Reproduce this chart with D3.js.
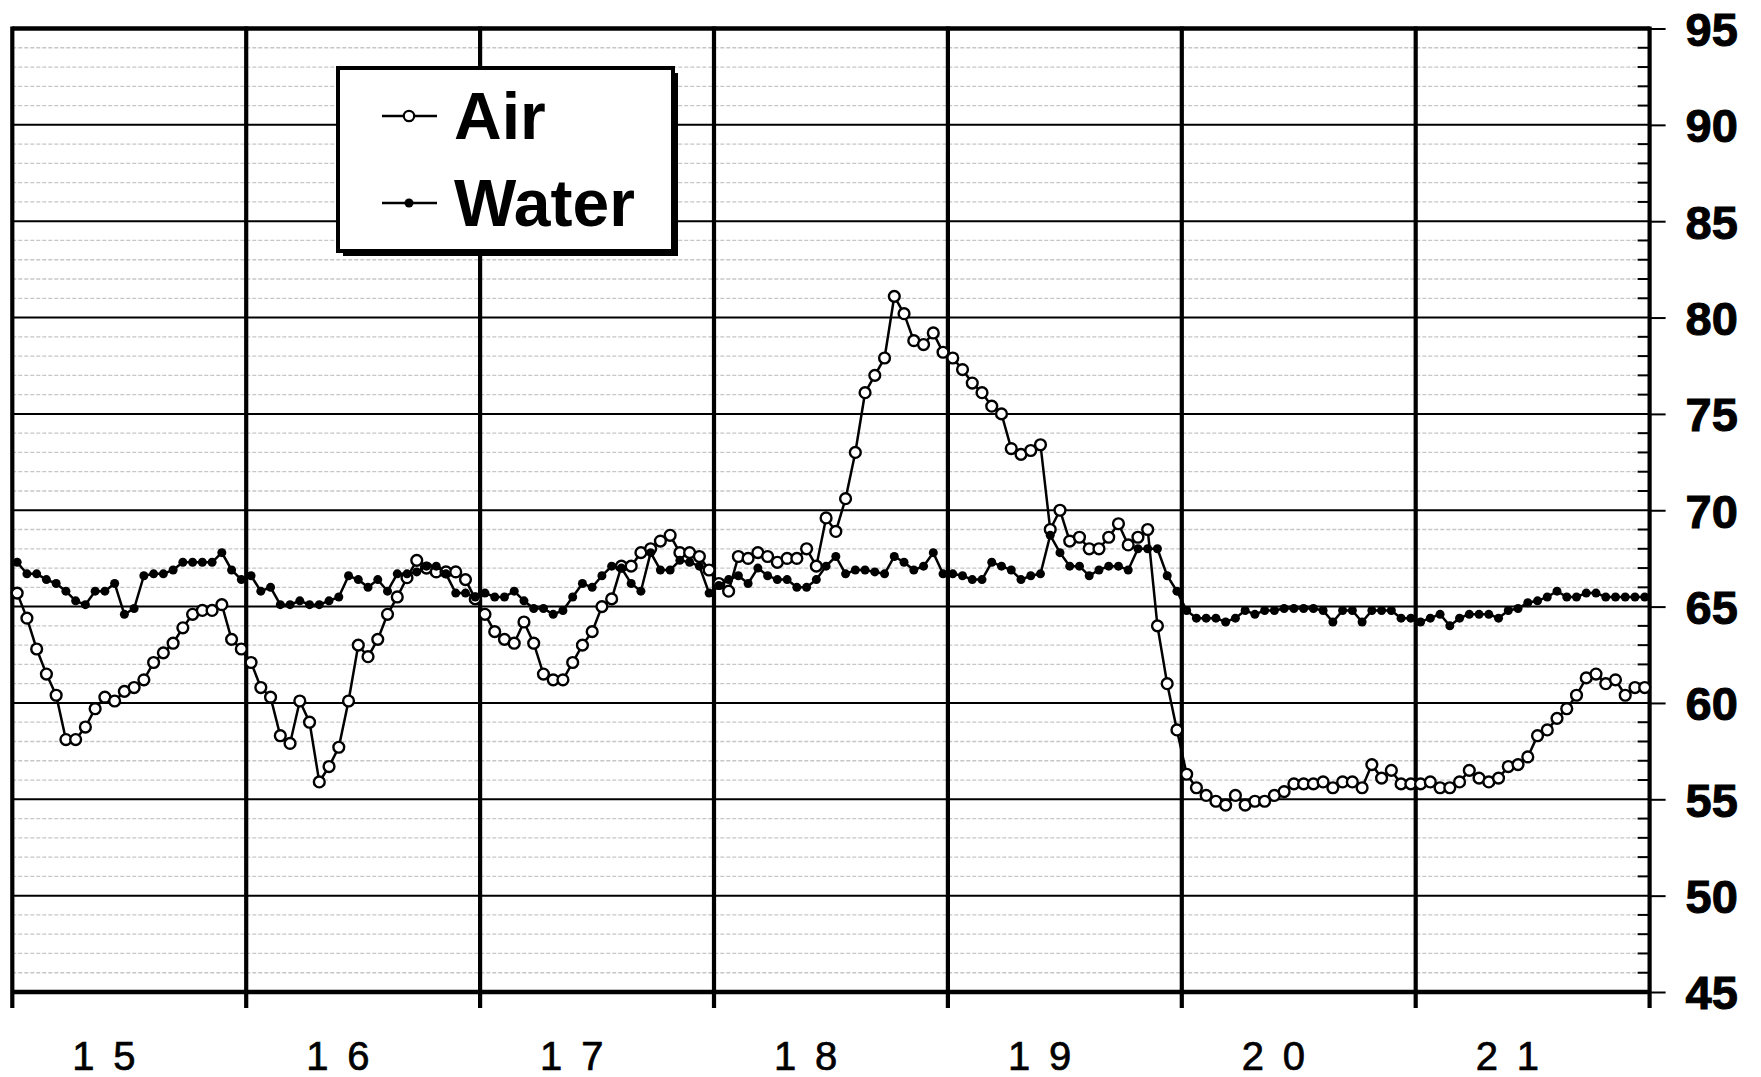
<!DOCTYPE html>
<html>
<head>
<meta charset="utf-8">
<script src="https://cdn.jsdelivr.net/npm/d3@7"></script>
<style>
body { margin: 0; background: #fff; }
</style>
</head>
<body>
<div id="chart"></div>
<script>

var days = ["15", "16", "17", "18", "19", "20", "21"];
var yTicks = [45, 50, 55, 60, 65, 70, 75, 80, 85, 90, 95];
var seriesNames = ["Air", "Water"];

// hourly readings, one row per day
var air = [
    65.7, 64.4, 62.8, 61.5, 60.4, 58.1, 58.1, 58.75, 59.7, 60.3, 60.1, 60.6, 60.8, 61.2, 62.1, 62.6, 63.1, 63.9, 64.6, 64.8, 64.8, 65.1, 63.3, 62.8,
    62.1, 60.8, 60.3, 58.3, 57.9, 60.1, 59.0, 55.9, 56.7, 57.7, 60.1, 63.0, 62.4, 63.3, 64.6, 65.5, 66.5, 67.4, 67.0, 66.8, 66.8, 66.8, 66.4, 65.4,
    64.6, 63.7, 63.3, 63.1, 64.2, 63.1, 61.5, 61.2, 61.2, 62.1, 63.0, 63.7, 65.0, 65.4, 67.1, 67.1, 67.8, 68.0, 68.4, 68.7, 67.8, 67.8, 67.6, 66.9,
    66.2, 65.8, 67.6, 67.5, 67.8, 67.6, 67.3, 67.5, 67.5, 68.0, 67.1, 69.6, 68.9, 70.6, 73.0, 76.1, 77.0, 77.9, 81.1, 80.2, 78.8, 78.6, 79.2, 78.2,
    77.9, 77.3, 76.6, 76.1, 75.4, 75.0, 73.2, 72.9, 73.1, 73.4, 69.0, 70.0, 68.4, 68.6, 68.0, 68.0, 68.6, 69.3, 68.2, 68.6, 69.0, 64.0, 61.0, 58.6,
    56.3, 55.6, 55.2, 54.9, 54.7, 55.2, 54.7, 54.9, 54.9, 55.2, 55.4, 55.8, 55.8, 55.8, 55.9, 55.6, 55.9, 55.9, 55.6, 56.8, 56.1, 56.5, 55.8, 55.8,
    55.8, 55.9, 55.6, 55.6, 55.9, 56.5, 56.1, 55.9, 56.1, 56.7, 56.8, 57.2, 58.3, 58.6, 59.2, 59.7, 60.4, 61.3, 61.5, 61.0, 61.2, 60.4, 60.8, 60.8
];

var water = [
    67.3, 66.7, 66.7, 66.4, 66.2, 65.8, 65.3, 65.1, 65.8, 65.8, 66.2, 64.6, 64.9, 66.6, 66.7, 66.7, 66.9, 67.3, 67.3, 67.3, 67.3, 67.8, 66.9, 66.4,
    66.6, 65.8, 66.0, 65.1, 65.1, 65.3, 65.1, 65.1, 65.3, 65.5, 66.6, 66.4, 66.0, 66.4, 65.8, 66.7, 66.7, 66.8, 67.1, 67.1, 66.7, 65.7, 65.7, 65.5,
    65.7, 65.5, 65.5, 65.8, 65.3, 64.9, 64.9, 64.6, 64.8, 65.5, 66.2, 66.0, 66.6, 67.1, 67.0, 66.2, 65.8, 67.8, 66.9, 66.9, 67.4, 67.3, 67.1, 65.7,
    66.1, 66.4, 66.6, 66.2, 67.0, 66.6, 66.4, 66.4, 66.0, 66.0, 66.4, 67.1, 67.6, 66.7, 66.9, 66.9, 66.8, 66.7, 67.6, 67.3, 66.9, 67.1, 67.8, 66.7,
    66.7, 66.6, 66.4, 66.4, 67.3, 67.1, 66.9, 66.4, 66.6, 66.7, 68.7, 67.8, 67.1, 67.1, 66.6, 66.9, 67.1, 67.1, 66.9, 68.0, 68.0, 68.0, 66.6, 65.8,
    64.8, 64.4, 64.4, 64.4, 64.2, 64.4, 64.8, 64.6, 64.8, 64.8, 64.9, 64.9, 64.9, 64.9, 64.8, 64.2, 64.8, 64.8, 64.2, 64.8, 64.8, 64.8, 64.4, 64.4,
    64.2, 64.4, 64.6, 64.0, 64.4, 64.6, 64.6, 64.6, 64.4, 64.8, 64.9, 65.2, 65.3, 65.5, 65.8, 65.5, 65.5, 65.7, 65.7, 65.5, 65.5, 65.5, 65.5, 65.5
];

function build_chart() {

    var width = 1761,
    height = 1077,
    left = 12.3,
    right = 1649.6,
    top = 28.5,
    bottom = 992,
    perDay = 24;

    var svg = d3.select("#chart")
        .append("svg")
            .attr("width", width)
            .attr("height", height);

    var xScale = d3.scaleLinear()
        .domain([0, days.length * perDay])
        .range([left, right]);

    var yScale = d3.scaleLinear()
        .domain([45, 95])
        .range([bottom, top]);

    var minor = d3.range(46, 95).filter(function(v){ return v % 5 != 0; });

    // dashed minor grid
    svg.append("g")
        .selectAll("line")
        .data(minor)
        .enter()
        .append("line")
            .attr("x1", left).attr("x2", right)
            .attr("y1", function(d){ return yScale(d); })
            .attr("y2", function(d){ return yScale(d); })
            .attr("stroke", "#c6c6c6")
            .attr("stroke-width", 1.3)
            .attr("stroke-dasharray", "4,2");

    // solid major grid
    svg.append("g")
        .selectAll("line")
        .data(yTicks)
        .enter()
        .append("line")
            .attr("x1", left).attr("x2", right)
            .attr("y1", function(d){ return yScale(d); })
            .attr("y2", function(d){ return yScale(d); })
            .attr("stroke", "#000")
            .attr("stroke-width", function(d){ return (d == 95 || d == 45) ? 4.5 : 2; });

    // day separators, running down as ticks below the axis
    svg.append("g")
        .selectAll("line")
        .data(d3.range(0, days.length + 1))
        .enter()
        .append("line")
            .attr("x1", function(d){ return xScale(d * perDay); })
            .attr("x2", function(d){ return xScale(d * perDay); })
            .attr("y1", top - 2)
            .attr("y2", bottom + 16)
            .attr("stroke", "#000")
            .attr("stroke-width", 4.2);

    // right axis
    var yAxis = svg.append("g")
        .attr("transform", "translate(" + right + ",0)")
        .call(d3.axisRight(yScale).tickValues(yTicks).tickSize(16).tickSizeOuter(0).tickPadding(20));
    yAxis.select(".domain").remove();
    yAxis.selectAll(".tick line").attr("stroke", "#000").attr("stroke-width", 2);
    yAxis.selectAll(".tick text")
        .attr("dy", "0.36em")
        .attr("fill", "#000")
        .attr("stroke", "#000")
        .attr("stroke-width", 1)
        .style("font-family", "'Liberation Sans', Arial, sans-serif")
        .style("font-weight", "bold")
        .style("font-size", "47px");

    svg.append("g")
        .selectAll("line")
        .data(minor)
        .enter()
        .append("line")
            .attr("x1", right - 12).attr("x2", right)
            .attr("y1", function(d){ return yScale(d); })
            .attr("y2", function(d){ return yScale(d); })
            .attr("stroke", "#000")
            .attr("stroke-width", 2);

    // day labels
    svg.append("g")
        .selectAll("text")
        .data(days)
        .enter()
        .append("text")
            .attr("x", function(d, i){ return xScale(i * perDay) + 60; })
            .attr("y", 1070)
            .attr("font-family", "'Liberation Sans', Arial, sans-serif")
            .attr("font-size", 40)
            .attr("letter-spacing", 18.8)
            .attr("fill", "#000")
            .attr("stroke", "#000")
            .attr("stroke-width", 0.7)
            .text(function(d){ return d; });

    var line = d3.line()
        .x(function(d, i){ return xScale(i + 0.5); })
        .y(function(d){ return yScale(d); });

    // Air
    svg.append("path")
        .datum(air)
        .attr("d", line)
        .attr("fill", "none")
        .attr("stroke", "#000")
        .attr("stroke-width", 2.5);

    svg.append("g")
        .selectAll("circle")
        .data(air)
        .enter()
        .append("circle")
            .attr("cx", function(d, i){ return xScale(i + 0.5); })
            .attr("cy", function(d){ return yScale(d); })
            .attr("r", 5.4)
            .attr("fill", "#fff")
            .attr("stroke", "#000")
            .attr("stroke-width", 2.4);

    // Water
    svg.append("path")
        .datum(water)
        .attr("d", line)
        .attr("fill", "none")
        .attr("stroke", "#000")
        .attr("stroke-width", 2.5);

    svg.append("g")
        .selectAll("circle")
        .data(water)
        .enter()
        .append("circle")
            .attr("cx", function(d, i){ return xScale(i + 0.5); })
            .attr("cy", function(d){ return yScale(d); })
            .attr("r", 4.5)
            .attr("fill", "#000");

    // legend
    var lg = svg.append("g");
    lg.append("rect")
        .attr("x", 343).attr("y", 73)
        .attr("width", 335).attr("height", 183)
        .attr("fill", "#000");
    lg.append("rect")
        .attr("x", 338).attr("y", 68)
        .attr("width", 335).attr("height", 183)
        .attr("fill", "#fff")
        .attr("stroke", "#000")
        .attr("stroke-width", 4);

    var rows = [116, 203];
    seriesNames.forEach(function(name, i){
        lg.append("line")
            .attr("x1", 382).attr("x2", 437)
            .attr("y1", rows[i]).attr("y2", rows[i])
            .attr("stroke", "#000")
            .attr("stroke-width", 2.3);
        if (i == 0) {
            lg.append("circle")
                .attr("cx", 409).attr("cy", rows[i]).attr("r", 5.2)
                .attr("fill", "#fff").attr("stroke", "#000").attr("stroke-width", 2.2);
        } else {
            lg.append("circle")
                .attr("cx", 409).attr("cy", rows[i]).attr("r", 4.5)
                .attr("fill", "#000");
        }
        lg.append("text")
            .attr("x", 454)
            .attr("y", rows[i] + 23)
            .attr("font-family", "'Liberation Sans', Arial, sans-serif")
            .attr("font-weight", "bold")
            .attr("font-size", 66)
            .attr("fill", "#000")
            .text(name);
    });
}
build_chart()
</script>
</body>
</html>
